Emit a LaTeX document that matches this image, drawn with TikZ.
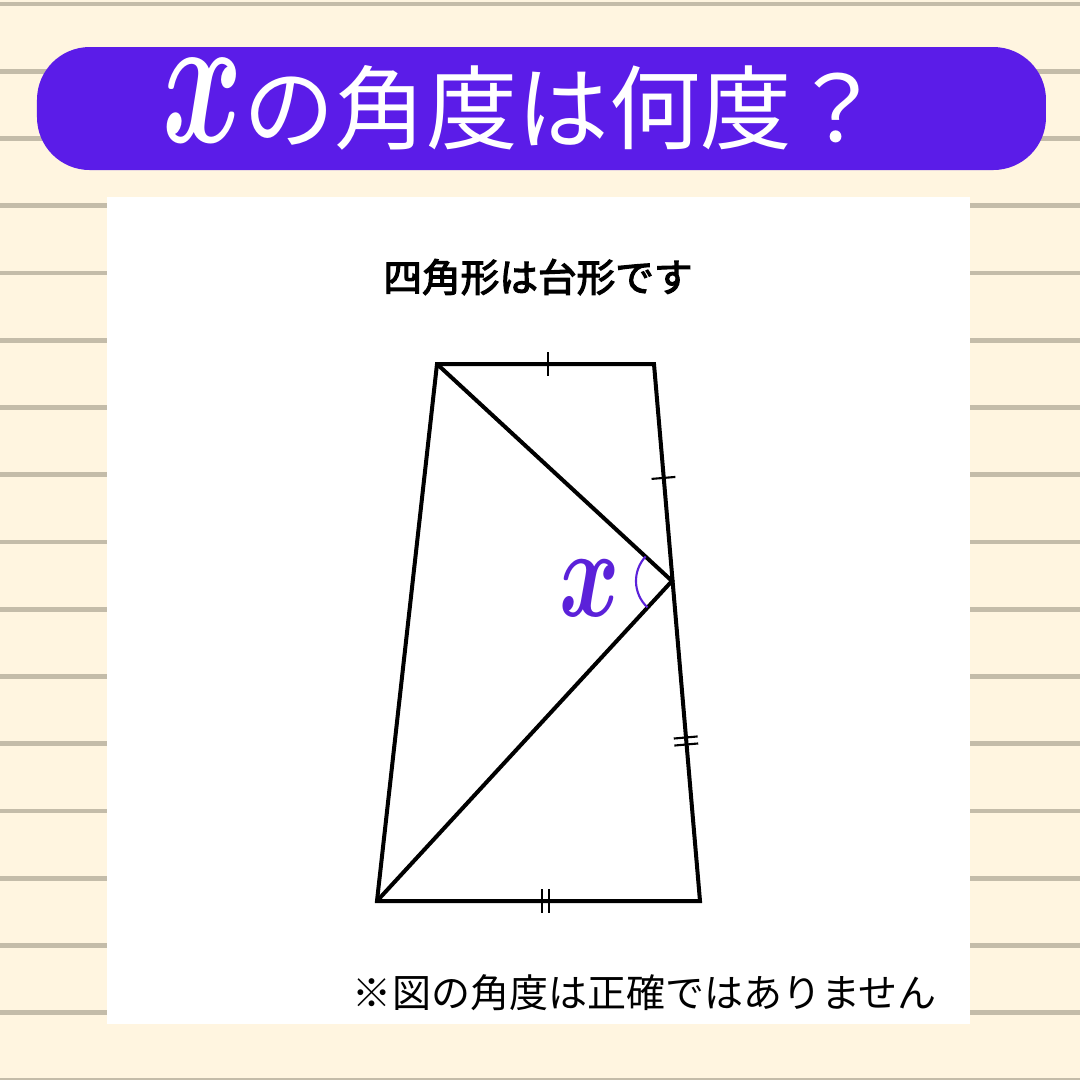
\documentclass[tikz,border=0pt]{standalone}
\usepackage{fontspec}
\newfontfamily\jpfont{Noto Sans CJK JP}
\newfontfamily\jpsemi{Noto Sans CJK JP}[FakeBold=3]
\usetikzlibrary{decorations.markings}
\definecolor{paper}{HTML}{FFF5E0}
\definecolor{ruling}{HTML}{C4BCA9}
\definecolor{banner}{HTML}{5B1CE8}
\definecolor{anglecol}{HTML}{5B21D9}
\tikzset{
  edge/.style={line width=1.14pt, line join=miter},
  tickone/.style={postaction={decorate, decoration={markings,
    mark=at position #1 with {\draw[line width=0.6pt] (0,-3.4pt) -- (0,3.4pt);}}}},
  ticktwo/.style={postaction={decorate, decoration={markings,
    mark=at position #1 with {\draw[line width=0.6pt] (-1pt,-3.4pt) -- (-1pt,3.4pt) (1pt,-3.4pt) -- (1pt,3.4pt);}}}},
}
\begin{document}
\begin{tikzpicture}[x=0.1mm, y=-0.1mm]
        % paper with ruled lines
        \fill[paper] (0,0) rectangle (1080,1080);
        \useasboundingbox (0,0) rectangle (1080,1080);
        \foreach \i in {0,...,16}
            \draw[ruling, line width=1.4pt] (0,{4+67.25*\i}) -- (1080,{4+67.25*\i});

        % title banner
        \fill[banner, rounded corners=15pt] (37,47) rectangle (1046,170);
        \node[text=white, anchor=base, font=\jpfont\fontsize{26pt}{26pt}\selectfont] (title) at (523,142)
            {\scalebox{1.4}[2.15]{\Huge\boldmath$x$}の角度は何度？};

        % white card
        \fill[white] (107,197) rectangle (970,1024);
        \node[font=\jpsemi\fontsize{11pt}{11pt}\selectfont] (subtitle) at (538,277) {四角形は台形です};

        % trapezoid corners and point on right side
        \coordinate (A) at (437,364);
        \coordinate (B) at (654,364);
        \coordinate (C) at (700,901);
        \coordinate (D) at (377,901);
        \coordinate (E) at (672,581);

        \draw[edge] (A) -- (B) -- (C) -- (D) -- cycle;
        \draw[edge] (A) -- (E) -- (D);

        % equal length marks
        \path[tickone=0.51] (A) -- (B);
        \path[tickone=0.525] (B) -- (E);
        \path[ticktwo=0.5] (E) -- (C);
        \path[ticktwo=0.523] (D) -- (C);

        % angle x
        \draw[anglecol, line width=0.6pt] ([shift={(133:36)}]E) arc[start angle=133, end angle=223, radius=36];
        \node[text=anglecol] (xlabel) at (590,588) {\scalebox{1.05}[1.45]{\Huge\boldmath$x$}};

        \node[font=\jpfont\fontsize{11.1pt}{11.1pt}\selectfont] (note) at (645,993) {※図の角度は正確ではありません};
    \end{tikzpicture}
\end{document}
